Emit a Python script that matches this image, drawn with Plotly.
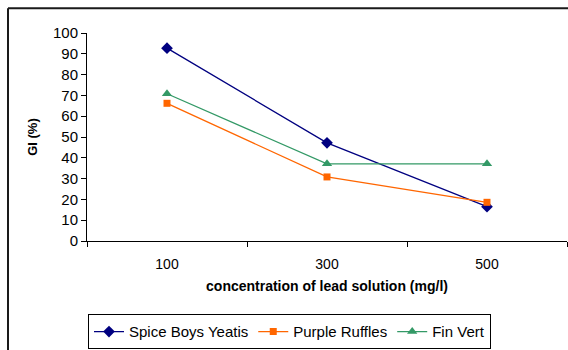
import plotly.graph_objects as go

categories = ["100", "300", "500"]
spice_boys = [92.7, 47.2, 16.5]
purple_ruffles = [66.2, 30.8, 18.6]
fin_vert = [70.8, 37.1, 37.1]
series_names = ["Spice Boys Yeatis", "Purple Ruffles", "Fin Vert"]

L, R, T, B = 87, 1, 33, 107
W, H = 568, 350
pw, ph = W - L - R, H - T - B

fig = go.Figure()
styles = [("#000080", "diamond", 9), ("#FF6600", "square", 7), ("#339966", "triangle-up", 9)]
for name, vals, (col, sym, sz) in zip(series_names, [spice_boys, purple_ruffles, fin_vert], styles):
    fig.add_trace(go.Scatter(
        x=categories, y=vals, name=name, mode="lines+markers",
        line=dict(color=col, width=1.3),
        marker=dict(color=col, symbol=sym, size=sz),
    ))

def px_x(x):
    return (x - L) / pw

def px_y(y):
    return (H - B - y) / ph

fig.update_layout(
    width=W, height=H,
    margin=dict(l=L, r=R, t=T, b=B),
    paper_bgcolor="white", plot_bgcolor="white",
    font=dict(family="Liberation Sans, Arial", color="black", size=13),
    showlegend=True,
    legend=dict(
        orientation="h", x=px_x(88), y=px_y(317), xanchor="left", yanchor="top",
        bordercolor="black", borderwidth=1, font=dict(size=15),
        itemwidth=30, tracegroupgap=0,
    ),
    xaxis=dict(
        type="category", range=[-0.5, 2.5], showgrid=False,
        showline=True, linecolor="black", linewidth=1,
        ticks="outside", tickson="boundaries", ticklen=5, tickcolor="black",
        tickfont=dict(size=14), ticklabelstandoff=10,
        title=dict(text="<b>concentration of lead solution (mg/l)</b>", font=dict(size=14), standoff=10),
    ),
    yaxis=dict(
        range=[0, 100], dtick=10, showgrid=False, zeroline=False,
        showline=True, linecolor="black", linewidth=1,
        ticks="outside", ticklen=5, tickcolor="black",
        tickfont=dict(size=15),
        title=dict(text="<b>GI (%)</b>", font=dict(size=13), standoff=12),
    ),
    shapes=[
        dict(type="line", xref="paper", yref="paper",
             x0=px_x(8), x1=px_x(8), y0=px_y(H + 5), y1=px_y(8),
             line=dict(color="#1a1a1a", width=2)),
        dict(type="line", xref="paper", yref="paper",
             x0=px_x(8), x1=px_x(W + 5), y0=px_y(8), y1=px_y(8),
             line=dict(color="#1a1a1a", width=2)),
    ],
)

fig.write_html("out.html")
